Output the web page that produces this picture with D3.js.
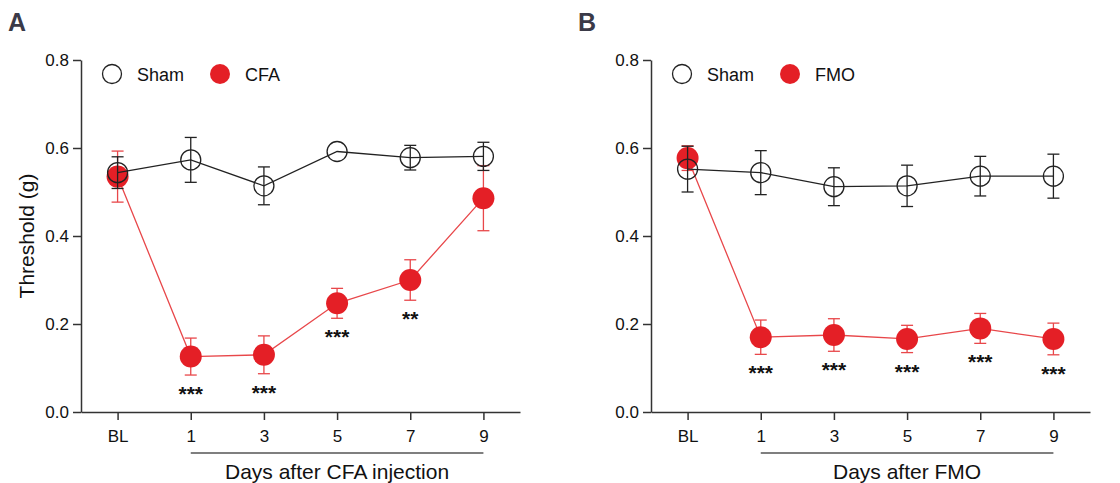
<!DOCTYPE html>
<html>
<head>
	<meta charset="utf-8" />
	<title>Threshold after CFA / FMO</title>
	<script src="https://d3js.org/d3.v7.min.js"></script>
	<style type="text/css">
		body { margin: 0; background: #fff; }
		svg text { font-family: "Liberation Sans", Arial, sans-serif; }
	</style>
</head>
<body>
	<script>
		// x categories and y ticks
		const days = ["BL", "1", "3", "5", "7", "9"];
		const yTicks = [0, 0.2, 0.4, 0.6, 0.8];

		// panel A
		const shamA = [0.544, 0.573, 0.514, 0.592, 0.578, 0.581];
		const shamAErr = [0.036, 0.051, 0.043, 0, 0.028, 0.032];
		const cfa = [0.535, 0.126, 0.130, 0.247, 0.300, 0.486];
		const cfaErr = [0.058, 0.042, 0.043, 0.034, 0.046, 0.074];
		const starsA = ["", "***", "***", "***", "**", ""];

		// panel B
		const shamB = [0.552, 0.544, 0.512, 0.514, 0.536, 0.536];
		const shamBErr = [0.052, 0.050, 0.043, 0.047, 0.045, 0.050];
		const fmo = [0.577, 0.170, 0.175, 0.166, 0.190, 0.166];
		const fmoErr = [0.028, 0.039, 0.037, 0.031, 0.034, 0.036];
		const starsB = ["", "***", "***", "***", "***", "***"];

		const width = 1120;
		const height = 483;
		const red = "#e41f26";
		const redLine = "#e8474a";

		const svg = d3.select("body")
			.append("svg")
			.attr("width", width)
			.attr("height", height);

		const plotTop = 60, plotH = 352, plotW = 439;

		function drawPanel(left, letter, sham, shamErr, trt, trtErr, stars, trtName, xTitle) {
			const g = svg.append("g").attr("transform", "translate(" + left + "," + plotTop + ")");

			const x = d3.scalePoint().domain(days).range([0, plotW]).padding(0.5);
			const y = d3.scaleLinear().domain([0, 0.8]).range([plotH, 0]);

			svg.append("text")
				.attr("x", left - 73)
				.attr("y", 31)
				.attr("font-size", 25)
				.attr("font-weight", "bold")
				.attr("fill", "#3a3a48")
				.text(letter);

			// axes
			const yAxis = g.append("g")
				.call(d3.axisLeft(y).tickValues(yTicks).tickFormat(d3.format(".1f"))
					.tickSize(8).tickPadding(4).tickSizeOuter(0));
			const xAxis = g.append("g")
				.attr("transform", "translate(0," + plotH + ")")
				.call(d3.axisBottom(x).tickSize(8).tickPadding(10).tickSizeOuter(0));
			[yAxis, xAxis].forEach(a => {
				a.select(".domain").attr("stroke", "#333").attr("stroke-width", 1.5);
				a.selectAll(".tick line").attr("stroke", "#333").attr("stroke-width", 1.5);
				a.selectAll(".tick text").attr("font-size", 17).attr("fill", "#111")
					.style("font-family", "'Liberation Sans', Arial, sans-serif");
			});

			// bracket line and title under days
			g.append("line")
				.attr("x1", x("1")).attr("x2", x("9"))
				.attr("y1", 393).attr("y2", 393)
				.attr("stroke", "#555").attr("stroke-width", 1.5);
			g.append("text")
				.attr("x", (x("1") + x("9")) / 2)
				.attr("y", 419)
				.attr("text-anchor", "middle")
				.attr("font-size", 21)
				.attr("fill", "#111")
				.text(xTitle);

			const line = d3.line().x((d, i) => x(days[i])).y(d => y(d));

			// treatment group (drawn first, sham outline sits over it)
			g.append("path").datum(trt)
				.attr("d", line).attr("fill", "none")
				.attr("stroke", redLine).attr("stroke-width", 1.3);
			drawErr(g, x, y, trt, trtErr, redLine);
			g.selectAll(".trt").data(trt).enter().append("circle")
				.attr("cx", (d, i) => x(days[i]))
				.attr("cy", d => y(d))
				.attr("r", 11)
				.attr("fill", red);

			// sham group
			g.append("path").datum(sham)
				.attr("d", line).attr("fill", "none")
				.attr("stroke", "#222").attr("stroke-width", 1.3);
			drawErr(g, x, y, sham, shamErr, "#222");
			g.selectAll(".sham").data(sham).enter().append("circle")
				.attr("cx", (d, i) => x(days[i]))
				.attr("cy", d => y(d))
				.attr("r", 10)
				.attr("fill", "none")
				.attr("stroke", "#222")
				.attr("stroke-width", 1.3);

			// significance stars below error bars
			g.selectAll(".star").data(stars).enter().append("text")
				.attr("x", (d, i) => x(days[i]))
				.attr("y", (d, i) => y(trt[i] - trtErr[i]) + 26)
				.attr("text-anchor", "middle")
				.attr("font-size", 21)
				.attr("font-weight", "bold")
				.attr("fill", "#111")
				.text(d => d);

			// legend
			g.append("circle").attr("cx", 31).attr("cy", 14).attr("r", 9.5)
				.attr("fill", "none").attr("stroke", "#222").attr("stroke-width", 1.3);
			g.append("text").attr("x", 56).attr("y", 21).attr("font-size", 18).attr("fill", "#111").text("Sham");
			g.append("circle").attr("cx", 139).attr("cy", 14).attr("r", 10).attr("fill", red);
			g.append("text").attr("x", 164).attr("y", 21).attr("font-size", 18).attr("fill", "#111").text(trtName);
		}

		function drawErr(g, x, y, vals, errs, color) {
			const eg = g.append("g").attr("stroke", color).attr("stroke-width", 1.3);
			vals.forEach((v, i) => {
				if (!errs[i]) return;
				const cx = x(days[i]);
				eg.append("line").attr("x1", cx).attr("x2", cx)
					.attr("y1", y(v - errs[i])).attr("y2", y(v + errs[i]));
				[v - errs[i], v + errs[i]].forEach(e => {
					eg.append("line").attr("x1", cx - 6).attr("x2", cx + 6)
						.attr("y1", y(e)).attr("y2", y(e));
				});
			});
		}

		drawPanel(81, "A", shamA, shamAErr, cfa, cfaErr, starsA, "CFA", "Days after CFA injection");
		drawPanel(651, "B", shamB, shamBErr, fmo, fmoErr, starsB, "FMO", "Days after FMO");

		// y axis title (panel A only)
		svg.append("text")
			.attr("transform", "translate(34,236) rotate(-90)")
			.attr("text-anchor", "middle")
			.attr("font-size", 21)
			.attr("fill", "#111")
			.text("Threshold (g)");
	</script>
</body>
</html>
